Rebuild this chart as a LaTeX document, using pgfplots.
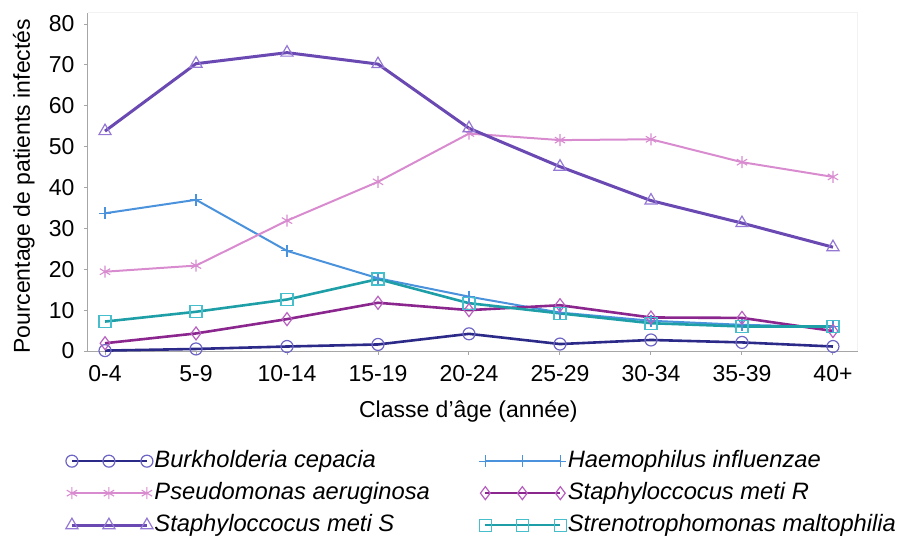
\documentclass[border=0pt]{standalone}
\usepackage{fontspec}
\setmainfont{Liberation Sans}
\usepackage{pgfplots}
\pgfplotsset{compat=1.18}
\definecolor{burk}{HTML}{2C2A88}
\definecolor{burkm}{HTML}{6E66C4}
\definecolor{haem}{HTML}{4A92DC}
\definecolor{pseu}{HTML}{D88CCF}
\definecolor{star}{HTML}{8A268E}
\definecolor{starm}{HTML}{B860C0}
\definecolor{stas}{HTML}{6A4AB2}
\definecolor{stasm}{HTML}{9478D4}
\definecolor{sten}{HTML}{1E9EA6}
\definecolor{stenm}{HTML}{46BECC}
\newcommand{\bigf}{\fontsize{23}{27}\selectfont}
\newcommand{\legf}{\fontsize{23.7}{27}\selectfont}
\begin{document}
\begin{tikzpicture}
\useasboundingbox (-88pt,-190pt) rectangle (815pt,351pt);
\begin{axis}[
  at={(0pt,0pt)}, anchor=south west,
  scale only axis, width=770pt, height=338pt,
  xmin=-0.187, xmax=8.275, ymin=0, ymax=82.7,
  axis x line*=bottom, axis y line*=left,
  axis line style={draw=gray!70, line width=1pt},
  xtick={0,1,2,3,4,5,6,7,8},
  xticklabels={0-4,5-9,10-14,15-19,20-24,25-29,30-34,35-39,40+},
  ytick={0,10,20,30,40,50,60,70,80},
  tick align=outside, major tick length=4pt,
  tick style={draw=gray!70, line width=1pt},
  /pgf/number format/assume math mode=true,
  ticklabel style={font=\bigf},
  xticklabel style={yshift=-7pt},
  yticklabel style={xshift=-6pt},
  xlabel={Classe d’âge (année)},
  ylabel={Pourcentage de patients infectés},
  label style={font=\bigf},
  xlabel style={at={(axis description cs:0.494,-0.1775)}, anchor=center},
  ylabel style={at={(axis description cs:-0.0835,0.487)}, anchor=center},
  legend columns=2,
  legend style={draw=none, fill=none, at={(axis description cs:-0.029,-0.278)}, anchor=north west,
    font=\legf\itshape, inner sep=0pt, row sep=0pt,
    nodes={text height=17pt, text depth=5pt, inner ysep=5pt, inner xsep=1.5pt},
    /tikz/every even column/.style={column sep=48pt}},
  legend cell align=left,
  legend image code/.code={\draw[mark repeat=1,mark phase=1,#1] plot coordinates {(0pt,0pt) (37pt,0pt) (75pt,0pt)};},
]
\draw[gray!10, line width=1pt] (rel axis cs:0,1) -- (rel axis cs:1,1) -- (rel axis cs:1,0);
\addplot[burk, line width=2.6pt, mark=o, mark size=6pt, mark options={draw=burkm, line width=1.2pt, fill=none}]
  coordinates {(0,0.1) (1,0.5) (2,1.1) (3,1.6) (4,4.2) (5,1.7) (6,2.7) (7,2.1) (8,1.1)};
\addlegendentry{Burkholderia cepacia}
\addplot[haem, line width=2pt, mark=+, mark size=6pt, mark options={line width=1.2pt}]
  coordinates {(0,33.7) (1,37.0) (2,24.5) (3,17.8) (4,13.3) (5,9.4) (6,7.4) (7,6.4) (8,5.9)};
\addlegendentry{Haemophilus influenzae}
\addplot[pseu, line width=2pt, mark=asterisk, mark size=6pt, mark options={line width=1.1pt}]
  coordinates {(0,19.4) (1,20.9) (2,31.9) (3,41.4) (4,53.2) (5,51.6) (6,51.8) (7,46.2) (8,42.6)};
\addlegendentry{Pseudomonas aeruginosa}
\addplot[star, line width=2.6pt, mark=diamond, mark size=6.5pt, mark options={draw=starm, line width=1.2pt, fill=none}]
  coordinates {(0,1.9) (1,4.3) (2,7.8) (3,11.8) (4,10.0) (5,11.2) (6,8.2) (7,8.1) (8,4.9)};
\addlegendentry{Staphyloccocus meti R}
\addplot[stas, line width=3pt, mark=triangle, mark size=7pt, mark options={draw=stasm, line width=1.2pt, fill=none}]
  coordinates {(0,53.8) (1,70.3) (2,73.0) (3,70.2) (4,54.5) (5,45.1) (6,36.8) (7,31.3) (8,25.4)};
\addlegendentry{Staphyloccocus meti S}
\addplot[sten, line width=2.6pt, mark=square, mark size=6pt, mark options={draw=stenm, line width=1.2pt, fill=none}]
  coordinates {(0,7.2) (1,9.6) (2,12.6) (3,17.6) (4,11.7) (5,9.2) (6,6.8) (7,6.0) (8,6.0)};
\addlegendentry{Strenotrophomonas maltophilia}
\end{axis}
\end{tikzpicture}
\end{document}
